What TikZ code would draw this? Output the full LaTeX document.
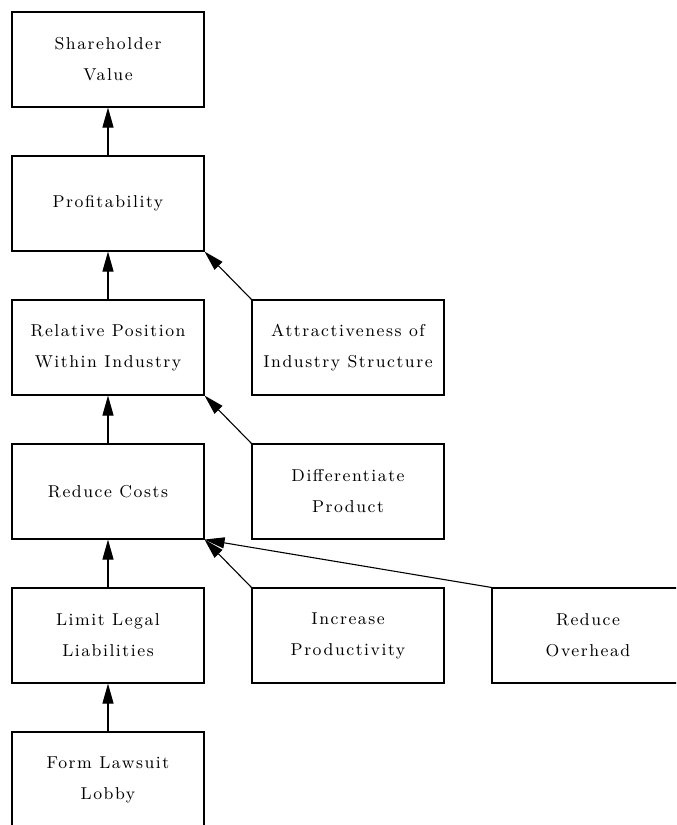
\documentclass[tikz,border=0pt]{standalone}
\usepackage{fontspec}
\setmainfont{Latin Modern Roman}[LetterSpace=9]
\usetikzlibrary{arrows.meta}
\begin{document}
\begin{tikzpicture}[x=0.5pt,y=-0.5pt,
  box/.style={draw, line width=0.55pt, rectangle, minimum width=96pt, minimum height=47.5pt,
    inner sep=0pt, align=center, font=\fontsize{8.6}{15.5}\selectfont},
  link/.style={line width=0.55pt, -{Triangle[length=10pt,width=5.5pt]}}]
\useasboundingbox (0,0) rectangle (676,825);
\clip (0,0) rectangle (676,825);
\node[box] (sv) at (108,59.5) {Shareholder\\Value};
\node[box] (pr) at (108,203.5) {Profitability};
\node[box] (rp) at (108,347.5) {Relative Position\\Within Industry};
\node[box] (ai) at (348,347.5) {Attractiveness of\\Industry Structure};
\node[box] (rc) at (108,491.5) {Reduce Costs};
\node[box] (dp) at (348,491.5) {Differentiate\\Product};
\node[box] (ll) at (108,635.5) {Limit Legal\\Liabilities};
\node[box] (ip) at (348,635.5) {Increase\\Productivity};
\node[box] (ro) at (588,635.5) {Reduce\\Overhead};
\node[box] (fl) at (108,779.5) {Form Lawsuit\\Lobby};
\draw[link] (pr.north) -- (sv.south);
\draw[link] (rp.north) -- (pr.south);
\draw[link] (ai.north west) -- (pr.south east);
\draw[link] (rc.north) -- (rp.south);
\draw[link] (dp.north west) -- (rp.south east);
\draw[link] (ll.north) -- (rc.south);
\draw[link] (ip.north west) -- (rc.south east);
\draw[link] (ro.north west) -- (rc.south east);
\draw[link] (fl.north) -- (ll.south);
\end{tikzpicture}
\end{document}
